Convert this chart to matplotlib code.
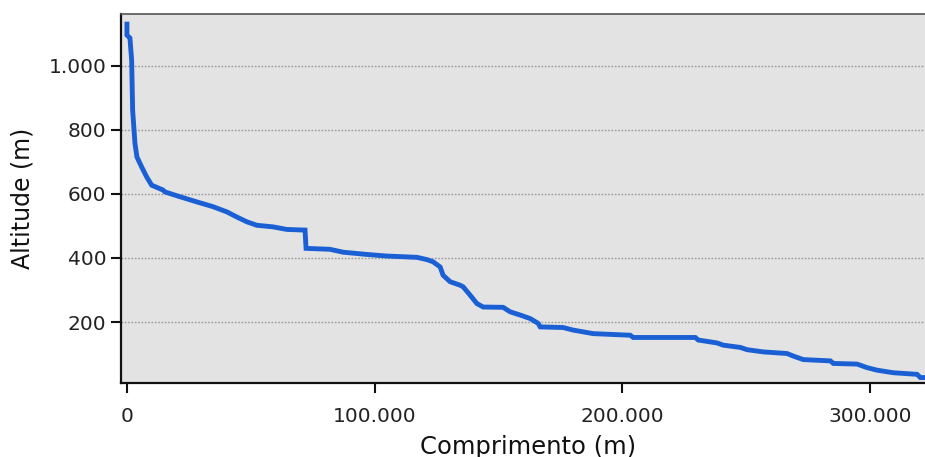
import matplotlib
matplotlib.use("Agg")
import matplotlib.pyplot as plt
from matplotlib.ticker import FuncFormatter, FixedLocator

# Data (length in m, altitude in m)
comprimento = [0, 0, 1212, 1899, 2303, 3232, 4040, 5939, 7960, 9980, 14545,
               15353, 21414, 28162, 34747, 40282, 44322, 48362, 52403, 58990,
               64525, 71919, 72323, 82020, 87272, 96848, 104929, 117050,
               121090, 123636, 126465, 127677, 130505, 134545, 135757, 138586,
               141293, 143838, 151919, 154747, 158788, 162828, 166060, 166868,
               176161, 180202, 188283, 203232, 204444, 229495, 230707, 238263,
               240808, 247677, 250384, 256970, 266545, 269091, 273131, 284040,
               285252, 294828, 298869, 302909, 309495, 319071, 320404, 323500]
altitude = [1137, 1095, 1086, 1017, 861, 758, 715, 684, 653, 627, 612,
            606, 591, 575, 560, 544, 528, 513, 502, 497,
            489, 487, 430, 427, 418, 411, 406, 402,
            395, 388, 372, 346, 326, 315, 310, 284,
            258, 247, 246, 232, 222, 211, 196, 185,
            183, 175, 164, 159, 152, 152, 144, 135,
            128, 121, 114, 107, 102, 94, 83, 79,
            71, 69, 58, 50, 42, 37, 27, 27]

y_ticks = [200, 400, 600, 800, 1000]
x_ticks = [0, 100000, 200000, 300000]

W, H = 925, 457
fig = plt.figure(figsize=(W / 100, H / 100), dpi=100)
ax = fig.add_axes([121 / W, 1 - 383 / H, 1 - 121 / W + 0.01, (383 - 14) / H])
ax.set_facecolor("#e3e3e3")

ax.plot(comprimento, altitude, color="#1b5fd4", linewidth=3.5,
        solid_joinstyle="miter", solid_capstyle="butt", zorder=3)

ax.set_xlim(-2400, 326000)
ax.set_ylim(10, 1161)

fmt = FuncFormatter(lambda v, p: f"{int(round(v)):,}".replace(",", "."))
ax.xaxis.set_major_locator(FixedLocator(x_ticks))
ax.yaxis.set_major_locator(FixedLocator(y_ticks))
ax.xaxis.set_major_formatter(fmt)
ax.yaxis.set_major_formatter(fmt)

ax.grid(axis="y", color="#999999", linestyle=(0, (1.2, 1.2)), linewidth=1.0, zorder=1)
ax.grid(axis="x", visible=False)

for s in ["left", "bottom"]:
    ax.spines[s].set_color("#111111")
    ax.spines[s].set_linewidth(1.6)
ax.spines["top"].set_color("#555555")
ax.spines["top"].set_linewidth(1.2)
ax.spines["right"].set_visible(False)

ax.tick_params(axis="both", direction="out", length=7, width=1.5, color="#111111",
               labelsize=14.5, labelcolor="#222222")
ax.tick_params(axis="y", pad=3.5)
ax.tick_params(axis="x", pad=10.5)

ax.set_xlabel("Comprimento (m)", fontsize=17.5, color="#111111", labelpad=6)
ax.set_ylabel("Altitude (m)", fontsize=17, color="#111111", labelpad=10)

fig.savefig("out.png", dpi=100)
